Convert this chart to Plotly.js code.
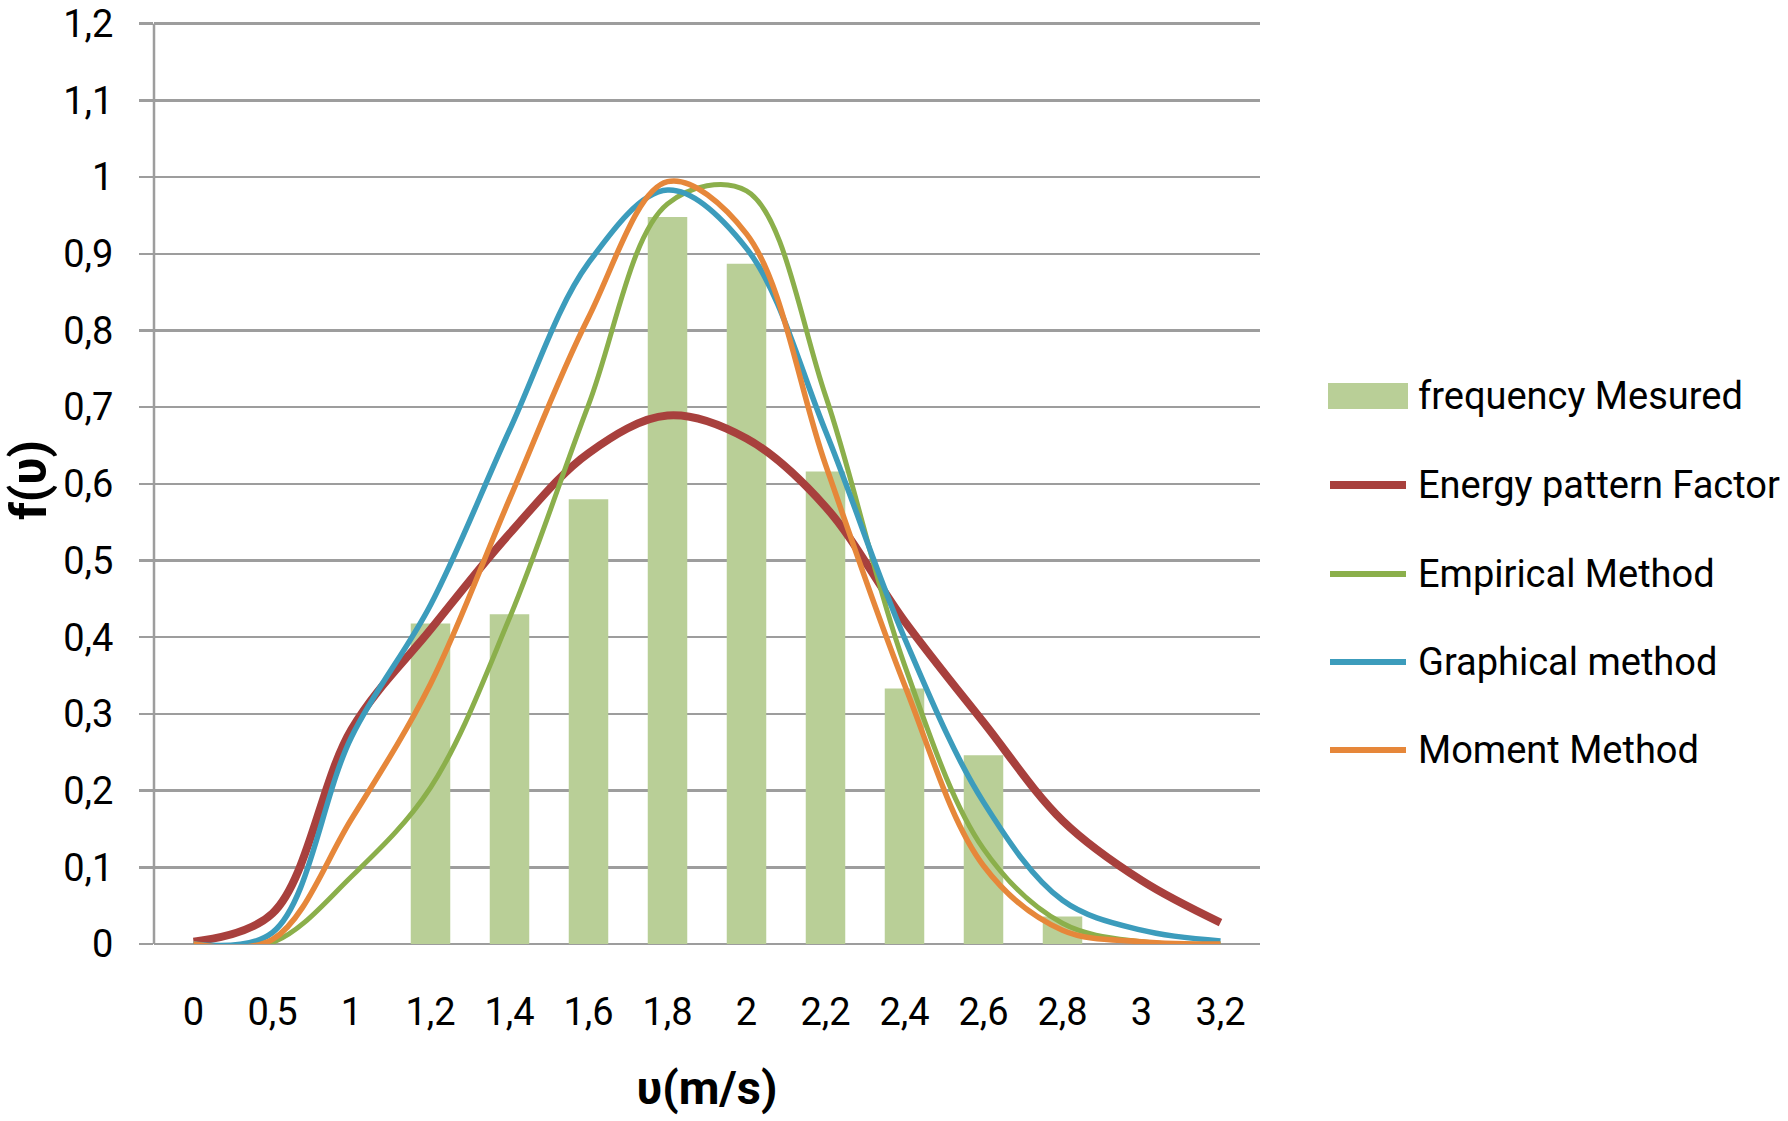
<!DOCTYPE html>
<html>
<head>
<meta charset="utf-8">
<script src="https://cdn.plot.ly/plotly-3.0.1.min.js"></script>
<style>
  html, body { margin: 0; padding: 0; background: #ffffff; }
  #chart { width: 1788px; height: 1121px; }
</style>
</head>
<body>
<div id="chart"></div>
<script>
// Wind speed categories (x axis tick labels)
const categories = ["0", "0,5", "1", "1,2", "1,4", "1,6", "1,8", "2", "2,2", "2,4", "2,6", "2,8", "3", "3,2"];

// Measured frequency (bars)
const frequencyMeasured = [null, null, null, 0.418, 0.430, 0.580, 0.948, 0.887, 0.616, 0.333, 0.246, 0.036, null, null];

// Fitted distributions (smoothed lines)
const energyPatternFactor = [0.003, 0.040, 0.280, 0.410, 0.535, 0.640, 0.689, 0.659, 0.570, 0.421, 0.289, 0.161, 0.083, 0.028];
const empiricalMethod     = [0.000, 0.002, 0.088, 0.204, 0.425, 0.703, 0.965, 0.982, 0.715, 0.364, 0.124, 0.027, 0.003, 0.000];
const graphicalMethod     = [0.000, 0.015, 0.270, 0.442, 0.670, 0.888, 0.983, 0.907, 0.669, 0.399, 0.185, 0.057, 0.018, 0.004];
const momentMethod        = [0.000, 0.006, 0.163, 0.339, 0.580, 0.817, 0.994, 0.926, 0.625, 0.338, 0.102, 0.018, 0.003, 0.000];

// Series names and colours (legend)
const seriesNames  = ["frequency Mesured", "Energy pattern Factor", "Empirical Method", "Graphical method", "Moment Method"];
const seriesColors = ["#B9CF97", "#A8403D", "#8BAF4B", "#3C9CBC", "#E6873A"];
const seriesWidths = [0, 8, 5, 5.5, 5.5];

const FONT = "Roboto, 'Liberation Sans', Arial, sans-serif";
const GRID = "#9D9D9D";

const lineTrace = (i, y) => ({
  type: "scatter",
  mode: "lines",
  name: seriesNames[i],
  x: categories,
  y: y,
  line: { color: seriesColors[i], width: seriesWidths[i], shape: "spline", smoothing: 1 },
  hoverinfo: "x+y+name"
});

const data = [
  {
    type: "bar",
    name: seriesNames[0],
    x: categories,
    y: frequencyMeasured,
    marker: { color: seriesColors[0] }
  },
  lineTrace(1, energyPatternFactor),
  lineTrace(2, empiricalMethod),
  lineTrace(3, graphicalMethod),
  lineTrace(4, momentMethod)
];

// Plot area in pixels: value 0 at y=944, value 1,2 at y=24
const yMax = 1.21;
const plotL = 154, plotR = 1260, plotB = 944;
const yTopGrid = 24;
const plotT = Math.round(plotB - (plotB - yTopGrid) * yMax / 1.2);

// Custom legend (paper coordinates), wide symbols like the original
const px2x = X => (X - plotL) / (plotR - plotL);
const px2y = Y => (plotB - Y) / (plotB - plotT);
const legendRowsY = [396, 485, 574, 662, 750];
const shapes = [];
const annotations = [];
seriesNames.forEach((name, i) => {
  const yc = legendRowsY[i];
  if (i === 0) {
    shapes.push({
      type: "rect", xref: "paper", yref: "paper",
      x0: px2x(1328), x1: px2x(1408), y0: px2y(yc + 13), y1: px2y(yc - 13),
      fillcolor: seriesColors[i], line: { width: 0 }
    });
  } else {
    shapes.push({
      type: "line", xref: "paper", yref: "paper",
      x0: px2x(1330), x1: px2x(1406), y0: px2y(yc), y1: px2y(yc),
      line: { color: seriesColors[i], width: i === 1 ? 8 : 6 }
    });
  }
  annotations.push({
    xref: "paper", yref: "paper",
    x: px2x(1416), y: px2y(yc),
    xanchor: "left", yanchor: "middle",
    text: name, showarrow: false,
    font: { family: FONT, size: 38, color: "#000000" }
  });
});

// Vertical axis line from 0 up to 1,2
shapes.push({
  type: "line", xref: "paper", yref: "y",
  x0: 0, x1: 0, y0: 0, y1: 1.2,
  line: { color: GRID, width: 2.5 }
});

const layout = {
  width: 1788,
  height: 1121,
  margin: { l: plotL, r: 1788 - plotR, t: plotT, b: 1121 - plotB },
  paper_bgcolor: "#ffffff",
  plot_bgcolor: "#ffffff",
  separators: ", ",
  bargap: 0.5,
  font: { family: FONT, size: 38, color: "#000000" },
  showlegend: false,
  shapes: shapes,
  annotations: annotations,
  xaxis: {
    type: "category",
    showgrid: false,
    showline: false,
    zeroline: false,
    ticks: "",
    ticklabelstandoff: 42,
    tickfont: { family: FONT, size: 38, color: "#000000" },
    title: {
      text: "υ(m/s)",
      font: { family: FONT, size: 47, color: "#000000", weight: "bold" },
      standoff: 38
    }
  },
  yaxis: {
    range: [0, yMax],
    dtick: 0.1,
    tick0: 0,
    showgrid: true,
    gridcolor: GRID,
    gridwidth: 2.5,
    zeroline: true,
    zerolinecolor: GRID,
    zerolinewidth: 2.5,
    showline: false,
    ticks: "outside",
    ticklen: 14,
    tickwidth: 2.5,
    tickcolor: GRID,
    ticklabelstandoff: 18,
    ticklabeloverflow: "allow",
    tickfont: { family: FONT, size: 38, color: "#000000" },
    title: {
      text: "f(υ)",
      font: { family: FONT, size: 50, color: "#000000", weight: "bold" },
      standoff: 12
    }
  }
};

Plotly.newPlot("chart", data, layout, { displayModeBar: false, staticPlot: true });
</script>
</body>
</html>
